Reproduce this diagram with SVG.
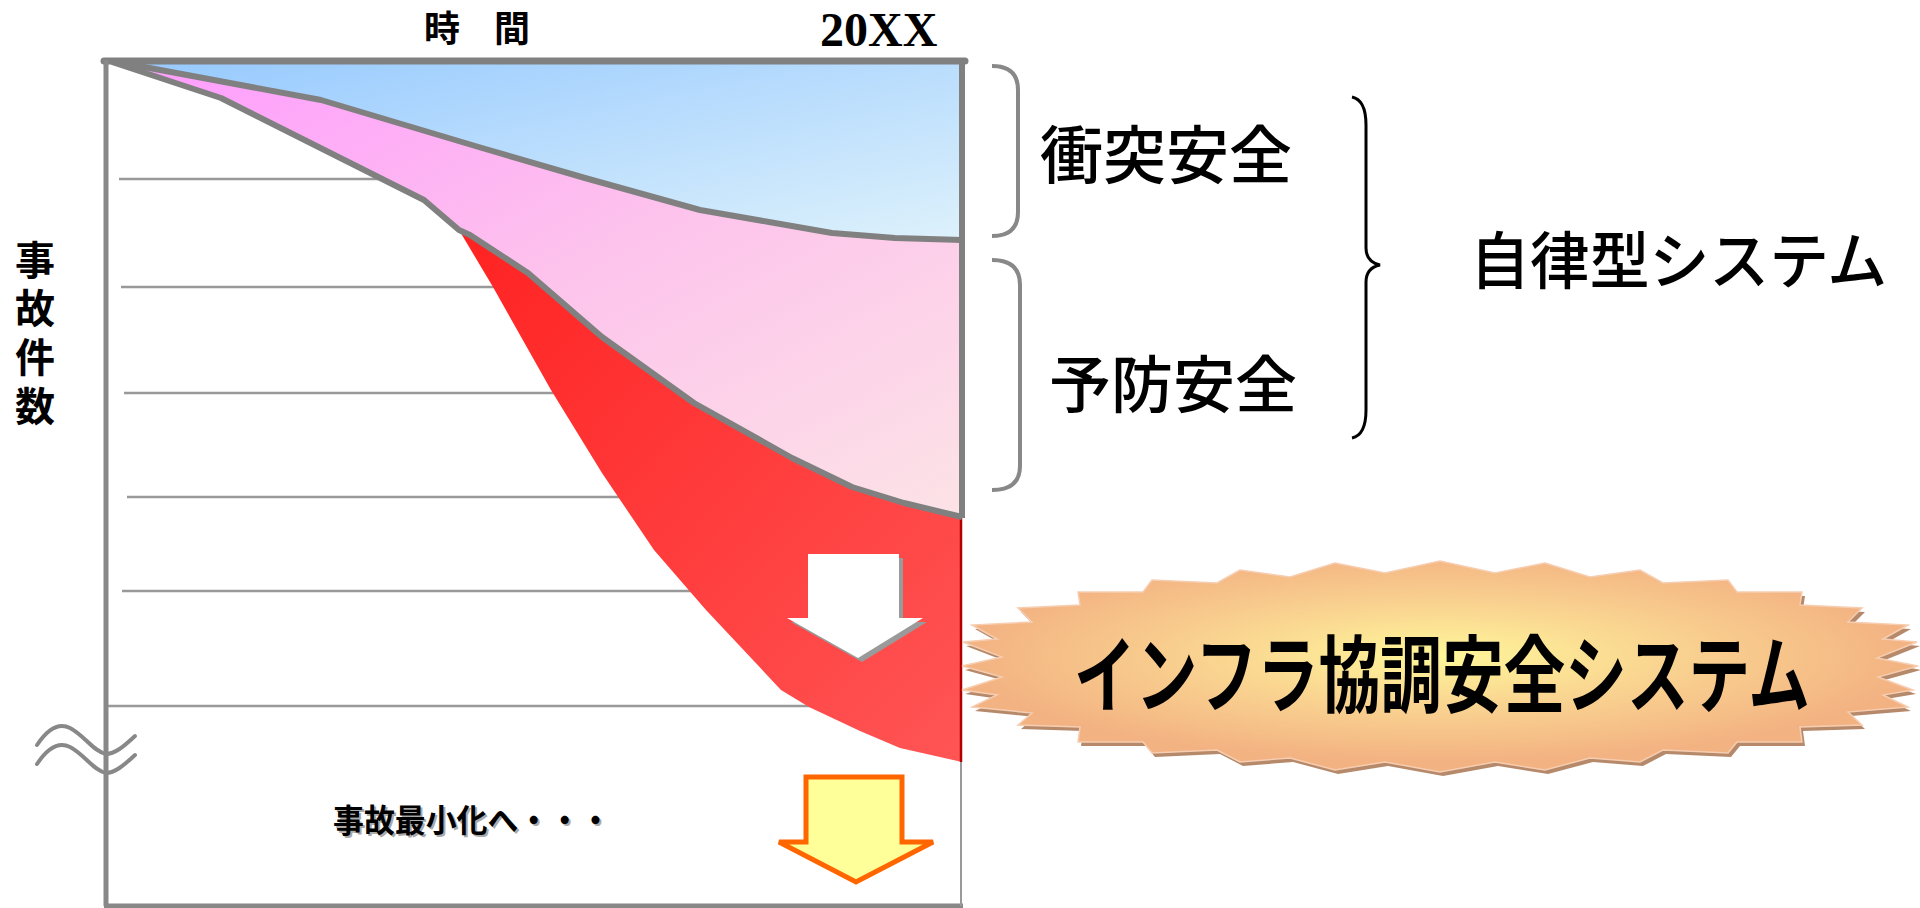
<svg xmlns="http://www.w3.org/2000/svg" width="1920" height="908" viewBox="0 0 1920 908">
<defs>
<linearGradient id="gBlue" x1="0" y1="0" x2="1" y2="1"><stop offset="0" stop-color="#96C9FF"/><stop offset="1" stop-color="#DDF1FB"/></linearGradient>
<linearGradient id="gPink" x1="0" y1="0" x2="1" y2="1"><stop offset="0" stop-color="#FF9CFF"/><stop offset="0.5" stop-color="#FDC3EC"/><stop offset="1" stop-color="#FCE3E6"/></linearGradient>
<linearGradient id="gRed" x1="0" y1="0" x2="1" y2="1"><stop offset="0" stop-color="#FF2222"/><stop offset="1" stop-color="#FF5555"/></linearGradient>
<radialGradient id="gBurst" cx="0.5" cy="0.45" r="0.5"><stop offset="0" stop-color="#FFF79A"/><stop offset="0.5" stop-color="#F9D290"/><stop offset="1" stop-color="#F3B282"/></radialGradient>
<style>
.grid{stroke:#999;stroke-width:2.5;fill:none}
.edge{stroke:#808080;stroke-width:6;fill:none;stroke-linejoin:round}
.axis{stroke:#888;stroke-width:5;fill:none}
.brk{stroke:#888;stroke-width:4;fill:none;stroke-linecap:round}
.jp{font-family:"Noto Sans CJK JP","Noto Sans CJK SC",sans-serif;fill:#000}
.b{font-weight:bold}
</style>
</defs>
<rect width="1920" height="908" fill="#fff"/>

<g id="gridlines">
<line class="grid" x1="119" y1="179" x2="500" y2="179"/>
<line class="grid" x1="121" y1="287" x2="600" y2="287"/>
<line class="grid" x1="124" y1="393" x2="700" y2="393"/>
<line class="grid" x1="127" y1="497" x2="750" y2="497"/>
<line class="grid" x1="122" y1="591" x2="800" y2="591"/>
<line class="grid" x1="106" y1="706" x2="850" y2="706"/>
</g>

<g id="area-pink">
<polygon fill="url(#gPink)" points="112,62 221,98 424,200 459,230 470,235 528,273 602,337 694,403 792,458 852,487 904,503 962,517 962,62"/>
</g>
<g id="area-red">
<polygon fill="url(#gRed)" points="459,230 493,287 551,390 602,473 654,550 706,610 781,690 809,707 860,731 900,748 962,762 962,517 904,503 852,487 792,458 694,403 602,337 528,273 470,235"/>
<line x1="961" y1="517" x2="961" y2="762" stroke="#B00000" stroke-width="2.5"/>
</g>
<g id="area-blue">
<polygon fill="url(#gBlue)" points="112,61 321,100 482,148 585,178 700,210 769,222 832,233 895,238 962,240 962,61"/>
</g>

<g id="frame">
<polyline class="edge" points="112,62 221,98 424,200 459,230 470,235 528,273 602,337 694,403 792,458 852,487 904,503 962,517"/>
<polyline class="edge" points="112,61 321,100 482,148 585,178 700,210 769,222 832,233 895,238 962,240"/>
<line class="edge" x1="962" y1="60" x2="962" y2="518"/>
<line x1="104" y1="61" x2="965" y2="61" stroke="#808080" stroke-width="7" stroke-linecap="round"/>
<line class="axis" x1="106" y1="60" x2="106" y2="906"/>
<line class="axis" x1="104" y1="906" x2="963" y2="906"/>
<line x1="961" y1="762" x2="961" y2="906" stroke="#999" stroke-width="2"/>
<path class="brk" d="M37,745 C47,730 58,722 70,728 C84,735 94,752 106,754 C116,754 126,744 135,736"/>
<path class="brk" d="M37,764 C47,749 58,741 70,747 C84,754 94,771 106,773 C116,773 126,763 135,755"/>
</g>

<g id="axis-labels">
<text class="jp b" x="424" y="42" font-size="36">時</text>
<text class="jp b" x="494" y="42" font-size="36">間</text>
<text x="820" y="46" font-family="'Liberation Serif',serif" font-weight="bold" font-size="48">20XX</text>
<g class="jp b" font-size="40" text-anchor="middle">
<text x="35" y="275">事</text>
<text x="35" y="323">故</text>
<text x="35" y="372">件</text>
<text x="35" y="421">数</text>
</g>
</g>

<g id="arrow-white">
<polygon fill="#9A9A9A" points="812,558 903,558 903,622 927,622 862,662 791,622 812,622"/>
<polygon fill="#fff" points="808,554 899,554 899,618 923,618 858,658 787,618 808,618"/>
</g>

<g id="arrow-yellow">
<polygon fill="#FFFF99" stroke="#FF6600" stroke-width="5" stroke-linejoin="miter" points="806,777 902,777 902,842 933,842 856,882 779,842 806,842"/>
</g>

<g id="label-minimize">
<text class="jp b" x="335" y="834" font-size="32" textLength="278" lengthAdjust="spacingAndGlyphs" style="fill:#aaa">事故最小化へ・・・</text>
<text class="jp b" x="333" y="832" font-size="32" textLength="278" lengthAdjust="spacingAndGlyphs">事故最小化へ・・・</text>
</g>

<g id="brackets">
<path d="M992,66 Q1018,66 1018,90 L1018,212 Q1018,236 992,236" fill="none" stroke="#888" stroke-width="4"/>
<path d="M992,260 Q1020,260 1020,285 L1020,466 Q1020,490 992,490" fill="none" stroke="#888" stroke-width="4"/>
<path d="M1352,97 Q1366,100 1366,125 L1366,248 Q1366,262 1380,265 Q1366,268 1366,282 L1366,410 Q1366,435 1352,438" fill="none" stroke="#000" stroke-width="3"/>
</g>

<g id="label-collision">
<text class="jp" x="1040" y="178" font-size="63" font-weight="500">衝突安全</text>
</g>
<g id="label-preventive">
<text class="jp" x="1049" y="408" font-size="62" font-weight="500">予防安全</text>
</g>
<g id="label-autonomous">
<text class="jp" x="1470" y="284" font-size="62" font-weight="500" textLength="417" lengthAdjust="spacingAndGlyphs">自律型システム</text>
</g>

<g id="burst">
<polygon transform="translate(3,4)" fill="#A87450" opacity="0.85" points="963,642 997,639 972,625 1032,622 1018,608 1080,605 1078,592 1143,592 1152,580 1217,583 1240,570 1290,577 1335,563 1385,573 1440,561 1495,573 1545,563 1590,577 1640,570 1663,583 1728,580 1737,592 1802,592 1800,605 1862,608 1848,622 1908,625 1883,639 1917,642 1877,658 1918,666 1878,677 1913,690 1883,695 1908,707 1848,712 1862,725 1800,727 1802,742 1737,742 1728,753 1663,750 1640,762 1590,758 1545,770 1495,762 1440,772 1385,762 1335,770 1290,758 1240,762 1217,750 1152,753 1143,742 1078,742 1080,727 1018,725 1032,713 972,707 997,695 962,690 1002,677 962,666 1002,657"/>
<polygon fill="url(#gBurst)" stroke="#F6CDB0" stroke-width="1.5" points="963,642 997,639 972,625 1032,622 1018,608 1080,605 1078,592 1143,592 1152,580 1217,583 1240,570 1290,577 1335,563 1385,573 1440,561 1495,573 1545,563 1590,577 1640,570 1663,583 1728,580 1737,592 1802,592 1800,605 1862,608 1848,622 1908,625 1883,639 1917,642 1877,658 1918,666 1878,677 1913,690 1883,695 1908,707 1848,712 1862,725 1800,727 1802,742 1737,742 1728,753 1663,750 1640,762 1590,758 1545,770 1495,762 1440,772 1385,762 1335,770 1290,758 1240,762 1217,750 1152,753 1143,742 1078,742 1080,727 1018,725 1032,713 972,707 997,695 962,690 1002,677 962,666 1002,657"/>
<text class="jp b" x="1074" y="706" font-size="84" textLength="736" lengthAdjust="spacingAndGlyphs">インフラ協調安全システム</text>
</g>
</svg>
